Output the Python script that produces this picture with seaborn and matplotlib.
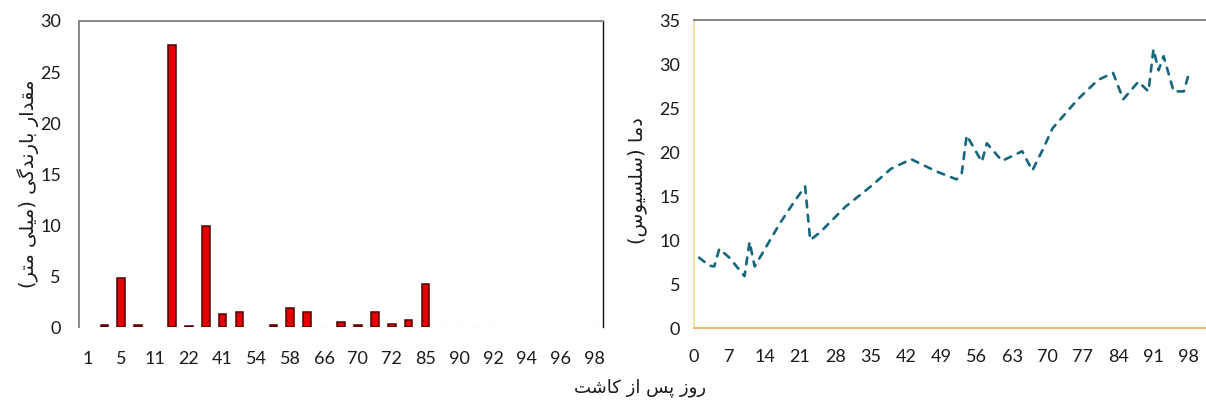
import matplotlib
matplotlib.use("Agg")
import matplotlib.pyplot as plt
import seaborn as sns
import pandas as pd

# rainfall (left panel): sampling days and rain in mm
rain_days = [1, 3, 5, 8, 11, 15, 22, 30, 41, 48, 54, 56, 58, 62, 66, 68,
             70, 71, 72, 80, 85, 88, 90, 91, 92, 93, 94, 95, 96, 97, 98]
rain_mm = [0, 0.2, 4.85, 0.2, 0, 27.6, 0.1, 9.9, 1.3, 1.5, 0, 0.2, 1.85, 1.45, 0, 0.5,
           0.26, 1.53, 0.29, 0.72, 4.23, 0, 0, 0, 0, 0, 0, 0, 0, 0, 0]

# temperature (right panel)
temp_days = [1, 3, 4, 5, 7, 10, 11, 12, 17, 20, 22, 23, 25, 30, 35, 39, 43, 48, 52,
             53, 54, 57, 58, 61, 65, 67, 69, 71, 76, 80, 83, 85, 88, 90, 91, 92, 93,
             95, 97, 98]
temp_c = [8.0, 7.1, 7.0, 9.0, 8.0, 5.9, 9.8, 7.0, 11.9, 14.5, 16.1, 10.0, 10.9, 13.8,
          16.1, 18.1, 19.2, 17.8, 16.9, 17.5, 21.9, 18.9, 21.0, 19.0, 20.1, 17.9, 20.2,
          22.7, 26.0, 28.2, 29.0, 26.0, 28.0, 26.9, 31.7, 29.3, 30.9, 26.9, 26.9, 28.9]

ylabel_rain = "مقدار بارندگی (میلی متر)"
ylabel_temp = "دما (سلسیوس)"
xlabel_all = "روز پس از کاشت"

# matplotlib has no arabic shaping, so pick the presentation forms by hand
FORMS = {
    'ا': ('\uFE8D', '\uFE8E', None, None),
    'ب': ('\uFE8F', '\uFE90', '\uFE91', '\uFE92'),
    'پ': ('\uFB56', '\uFB57', '\uFB58', '\uFB59'),
    'ت': ('\uFE95', '\uFE96', '\uFE97', '\uFE98'),
    'د': ('\uFEA9', '\uFEAA', None, None),
    'ر': ('\uFEAD', '\uFEAE', None, None),
    'ز': ('\uFEAF', '\uFEB0', None, None),
    'س': ('\uFEB1', '\uFEB2', '\uFEB3', '\uFEB4'),
    'ش': ('\uFEB5', '\uFEB6', '\uFEB7', '\uFEB8'),
    'ق': ('\uFED5', '\uFED6', '\uFED7', '\uFED8'),
    'ک': ('\uFB8E', '\uFB8F', '\uFB90', '\uFB91'),
    'گ': ('\uFB92', '\uFB93', '\uFB94', '\uFB95'),
    'ل': ('\uFEDD', '\uFEDE', '\uFEDF', '\uFEE0'),
    'م': ('\uFEE1', '\uFEE2', '\uFEE3', '\uFEE4'),
    'ن': ('\uFEE5', '\uFEE6', '\uFEE7', '\uFEE8'),
    'و': ('\uFEED', '\uFEEE', None, None),
    'ی': ('\uFBFC', '\uFBFD', '\uFBFE', '\uFBFF'),
}


def fa(text):
    out = []
    for i, ch in enumerate(text):
        if ch not in FORMS:
            out.append(ch)
            continue
        prev = text[i - 1] if i > 0 else ''
        nxt = text[i + 1] if i + 1 < len(text) else ''
        join_prev = prev in FORMS and FORMS[prev][2] is not None
        join_next = nxt in FORMS and FORMS[ch][2] is not None
        iso, fin, ini, med = FORMS[ch]
        if join_prev and join_next:
            out.append(med)
        elif join_prev:
            out.append(fin)
        elif join_next:
            out.append(ini)
        else:
            out.append(iso)
    s = ''.join(reversed(out))
    return s.translate(str.maketrans('()', ')('))


sns.set_style("white")
plt.rcParams['font.family'] = ['Lato', 'DejaVu Sans']

fig = plt.figure(figsize=(12.06, 4.03), dpi=100)
ax1 = fig.add_axes([0.0655, 0.188, 0.4345, 0.76])
ax2 = fig.add_axes([0.5755, 0.186, 0.4245, 0.764])

# left: rainfall bars
df_rain = pd.DataFrame({'day': [str(d) for d in rain_days], 'rain': rain_mm})
sns.barplot(x='day', y='rain', data=df_rain, order=df_rain['day'], ax=ax1,
            color='#e60000', saturation=1, width=0.45,
            edgecolor='#4a0000', linewidth=1.1)
# empty days only leave a faint coloured trace on the baseline
for i, p in enumerate(ax1.patches):
    if p.get_height() == 0:
        p.set_edgecolor('#c8f7c0' if i > 12 else '#fff3a8')
        p.set_linewidth(1.0)
ax1.set_xlim(-0.5, len(rain_days) - 0.5)
ax1.set_ylim(0, 30)
ax1.set_yticks(range(0, 31, 5))
ax1.set_xticks(range(0, len(rain_days), 2))
ax1.set_xticklabels(rain_days[::2])
ax1.tick_params(axis='x', length=0, pad=17, labelsize=13, labelcolor='#1a1a1a')
ax1.tick_params(axis='y', length=0, pad=13, labelsize=13, labelcolor='#1a1a1a')
ax1.set_xlabel('')
ax1.set_ylabel('')
ax1.spines['bottom'].set_visible(False)
ax1.spines['left'].set_color('#808080')
ax1.spines['left'].set_linewidth(1.3)
ax1.spines['top'].set_color('#808080')
ax1.spines['top'].set_linewidth(1.3)
ax1.spines['right'].set_color('#111111')
ax1.spines['right'].set_linewidth(1.0)

# right: temperature line
df_temp = pd.DataFrame({'day': temp_days, 'temp': temp_c})
sns.lineplot(x='day', y='temp', data=df_temp, ax=ax2, color='#15677e',
             linewidth=1.9, linestyle=(0, (2.6, 2.8)),
             dash_capstyle='round', dash_joinstyle='round')
ax2.set_xlim(0, 101.4)
ax2.set_ylim(0, 35)
ax2.set_xticks(range(0, 99, 7))
ax2.set_yticks(range(0, 36, 5))
ax2.tick_params(axis='x', length=0, pad=15, labelsize=13, labelcolor='#1a1a1a')
ax2.tick_params(axis='y', length=0, pad=10, labelsize=13, labelcolor='#1a1a1a')
ax2.set_xlabel('')
ax2.set_ylabel('')
ax2.spines['right'].set_visible(False)
ax2.spines['top'].set_color('#7a7a7a')
ax2.spines['top'].set_linewidth(1.3)
ax2.spines['left'].set_color('#f8dca6')
ax2.spines['left'].set_linewidth(1.3)
ax2.spines['bottom'].set_color('#f2b860')
ax2.spines['bottom'].set_linewidth(1.3)

fig.text(0.023, 0.545, fa(ylabel_rain), rotation=90, ha='center', va='center',
         fontsize=14, family='DejaVu Sans', color='#1a1a1a')
fig.text(0.528, 0.553, fa(ylabel_temp), rotation=90, ha='center', va='center',
         fontsize=14, family='DejaVu Sans', color='#1a1a1a')
fig.text(0.531, 0.037, fa(xlabel_all), ha='center', va='center',
         fontsize=13, family='DejaVu Sans', color='#1a1a1a')

fig.savefig('out.png', dpi=100)
